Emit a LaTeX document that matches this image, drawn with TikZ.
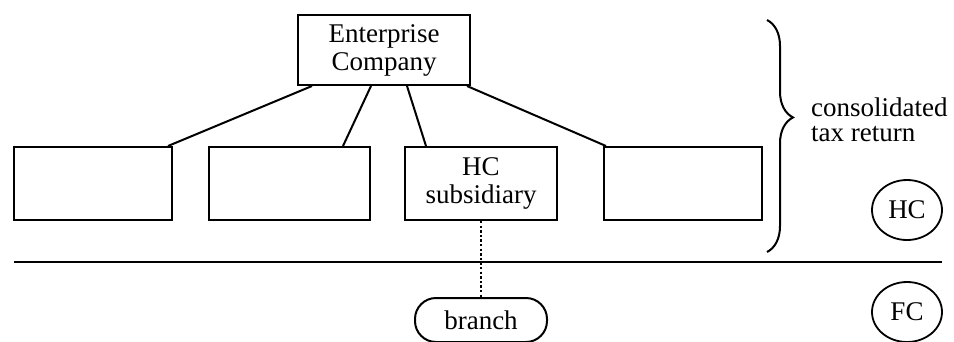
\documentclass[tikz,border=0pt]{standalone}
\usepackage{fontspec}
\setmainfont{Liberation Serif}
\usetikzlibrary{calc,shapes.geometric,decorations.pathreplacing}
\tikzset{
  unit/.style={draw, line width=2pt, rectangle, minimum height=73pt, inner sep=0pt, align=center},
  link/.style={line width=2pt},
  region/.style={draw, line width=1.8pt, ellipse, minimum width=70pt, minimum height=60pt, inner sep=0pt},
  txt/.style={font=\fontsize{27}{28}\selectfont}
}
\begin{document}
\begin{tikzpicture}[x=1pt,y=-1pt,txt]
\useasboundingbox (0,0) rectangle (954,341);

% parent company
\node[unit, minimum width=172pt, minimum height=70pt] (ent) at (384,50) {Enterprise\\Company};

% subsidiaries
\node[unit, minimum width=158pt] (s1) at (93,183.5) {};
\node[unit, minimum width=161pt] (s2) at (289.5,183.5) {};
\node[unit, minimum width=152pt] (hc) at (481,183.5) {HC\\subsidiary};
\node[unit, minimum width=158pt] (s4) at (683,183.5) {};

% ownership links
\draw[link] ($(ent.south west)+(15,0)$) -- ($(s1.north east)+(-5,0)$);
\draw[link] ($(ent.south)+(-13,0)$) -- ($(s2.north east)+(-28,0)$);
\draw[link] ($(ent.south)+(23,0)$) -- ($(hc.north west)+(22,0)$);
\draw[link] ($(ent.south east)+(-4,0)$) -- ($(s4.north west)+(3,0)$);

% border between home and foreign country
\coordinate (bl) at (14,262);
\coordinate (br) at (942,262);
\draw[line width=2pt] (bl) -- (br);

% foreign branch
\node[draw, line width=2pt, rectangle, rounded corners=21pt, minimum width=132pt, minimum height=44pt, inner sep=0pt] (br1) at (481,320) {branch};
\draw[line width=2.2pt, dash pattern=on 2.4pt off 2.2pt] (hc.south) -- (br1.north);

% consolidated group brace
\coordinate (bt) at (767,20);
\coordinate (bb) at (767,252);
\draw[line width=2pt, decorate, decoration={brace, amplitude=26pt, aspect=0.42}] (bt) -- (bb);
\node[anchor=west, align=left, inner sep=0pt, font=\fontsize{27}{25}\selectfont] (ctr) at (811,120) {consolidated\\tax return};

% country labels
\node[region] (hcl) at (907,210) {HC};
\node[region] (fcl) at (907,312) {FC};
\end{tikzpicture}
\end{document}
